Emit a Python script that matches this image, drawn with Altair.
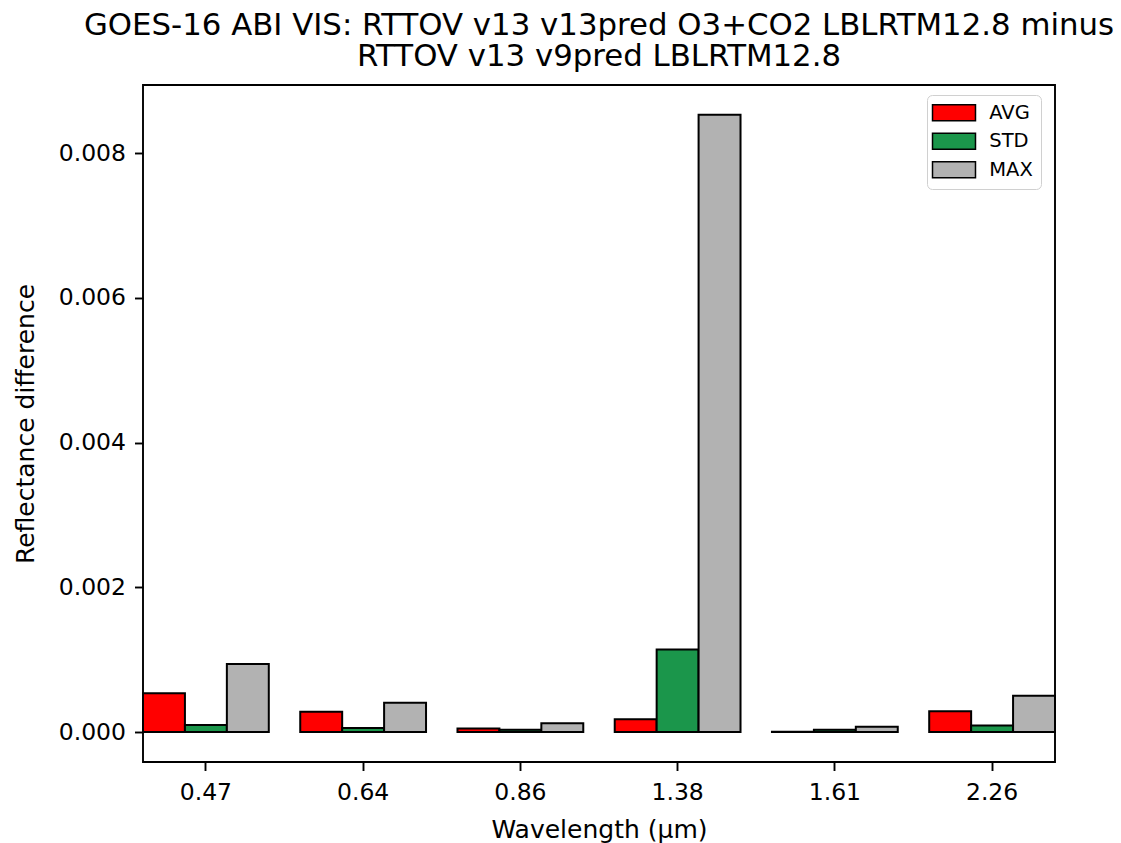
import altair as alt
import pandas as pd

# Band centre wavelengths (µm) of the GOES-16 ABI visible / near-IR channels
wavelengths = ["0.47", "0.64", "0.86", "1.38", "1.61", "2.26"]
stats = ["AVG", "STD", "MAX"]

# Reflectance differences per channel
avg_vals = [0.000535, 0.00028, 0.00005, 0.000175, 0.000003, 0.000286]
std_vals = [0.000097, 0.000055, 0.00003, 0.00114, 0.00003, 0.000092]
max_vals = [0.00094, 0.000405, 0.00012, 0.00853, 0.000073, 0.0005]

colors = ["#ff0000", "#1b964b", "#b2b2b2"]

rows = []
for stat, vals in zip(stats, [avg_vals, std_vals, max_vals]):
    for wl, v in zip(wavelengths, vals):
        rows.append({"wavelength": wl, "stat": stat, "value": v})
df = pd.DataFrame(rows)

FONT = "DejaVu Sans"

chart = (
    alt.Chart(df)
    .mark_bar(stroke="black", strokeWidth=2, opacity=1)
    .encode(
        x=alt.X(
            "wavelength:N",
            sort=wavelengths,
            scale=alt.Scale(paddingInner=0.2, paddingOuter=0.0),
            axis=alt.Axis(
                title="Wavelength (μm)",
                labelAngle=0,
                domain=False,
                tickColor="black",
                tickWidth=1.9,
                tickSize=8.5,
                labelPadding=10,
                labelFontSize=23.5,
                labelColor="black",
                titleFontSize=25,
                titleFontWeight="normal",
                titleColor="black",
                titlePadding=13,
                labelFont=FONT,
                titleFont=FONT,
            ),
        ),
        xOffset=alt.XOffset(
            "stat:N",
            sort=stats,
            scale=alt.Scale(paddingInner=0, paddingOuter=0),
        ),
        y=alt.Y(
            "value:Q",
            scale=alt.Scale(domain=[-0.000414, 0.00894], nice=False, zero=False),
            axis=alt.Axis(
                title="Reflectance difference",
                values=[0.0, 0.002, 0.004, 0.006, 0.008],
                format=".3f",
                grid=False,
                domain=False,
                tickColor="black",
                tickWidth=1.9,
                tickSize=8.5,
                labelPadding=9,
                labelFontSize=23.5,
                labelColor="black",
                titleFontSize=25,
                titleFontWeight="normal",
                titleColor="black",
                titlePadding=20,
                labelFont=FONT,
                titleFont=FONT,
            ),
        ),
        y2=alt.datum(0),
        fill=alt.Fill(
            "stat:N",
            sort=stats,
            scale=alt.Scale(domain=stats, range=colors),
            legend=alt.Legend(
                title=None,
                orient="none",
                legendX=784,
                legendY=10,
                symbolType="M-2.966,-1.103H2.966V1.103H-2.966Z",
                symbolSize=210,
                symbolOffset=9.25,
                symbolStrokeColor="black",
                symbolStrokeWidth=1.5,
                symbolOpacity=1,
                labelFontSize=19.5,
                labelFont=FONT,
                labelColor="black",
                labelOffset=25.5,
                rowPadding=5.5,
                padding=8,
                strokeColor="#d0d0d0",
                fillColor="white",
                cornerRadius=5,
            ),
        ),
    )
    .properties(
        width=912,
        height=677,
        title=alt.TitleParams(
            text=[
                "GOES-16 ABI VIS: RTTOV v13 v13pred O3+CO2 LBLRTM12.8 minus",
                "RTTOV v13 v9pred LBLRTM12.8",
            ],
            anchor="middle",
            font=FONT,
            fontSize=30.8,
            fontWeight="normal",
            color="black",
            lineHeight=31.5,
            offset=12,
        ),
        autosize=alt.AutoSizeParams(type="none"),
        padding={"left": 143, "top": 85, "right": 66, "bottom": 81},
    )
    .configure(background="white")
    .configure_view(stroke="black", strokeWidth=1.9)
)

chart.save("out.html", embed_options={"renderer": "svg", "actions": False})
